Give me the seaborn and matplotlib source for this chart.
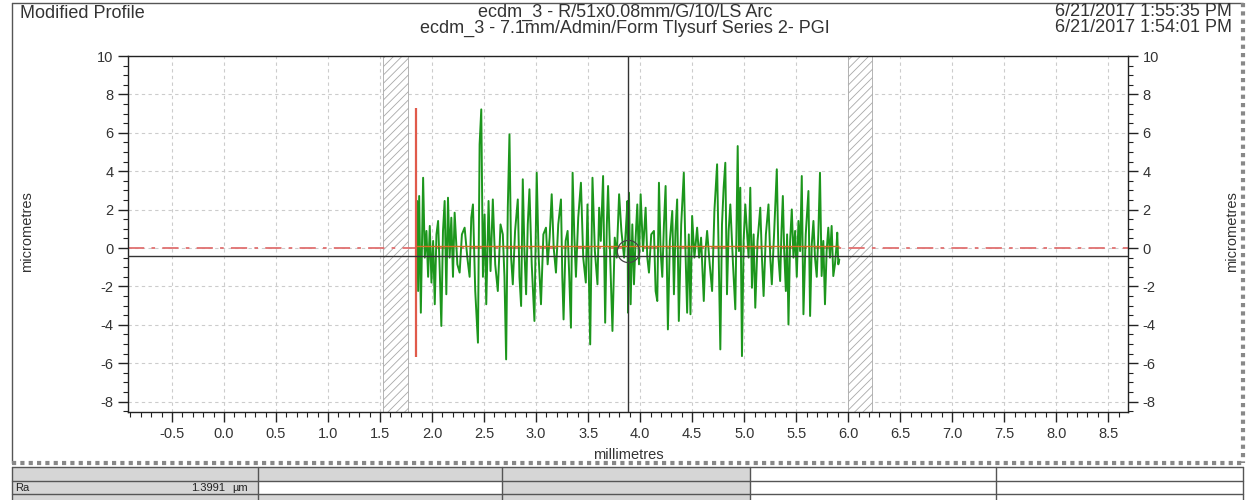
import matplotlib
matplotlib.use("Agg")
import matplotlib.pyplot as plt
import seaborn as sns
from matplotlib.ticker import MultipleLocator, FormatStrFormatter

# profile (mm, micrometres)
prof_x = [1.850, 1.856, 1.866, 1.876, 1.892, 1.914, 1.930, 1.946, 1.962, 1.978,
          1.994, 2.010, 2.026, 2.042, 2.058, 2.074, 2.089, 2.105, 2.121, 2.137,
          2.153, 2.169, 2.185, 2.201, 2.217, 2.243, 2.265, 2.287, 2.313, 2.339,
          2.361, 2.377, 2.393, 2.415, 2.441, 2.457, 2.473, 2.489, 2.505, 2.521,
          2.543, 2.562, 2.584, 2.607, 2.632, 2.658, 2.680, 2.696, 2.712, 2.728,
          2.744, 2.760, 2.776, 2.798, 2.824, 2.840, 2.856, 2.872, 2.888, 2.904,
          2.920, 2.936, 2.958, 2.984, 3.006, 3.025, 3.047, 3.070, 3.095, 3.111,
          3.130, 3.150, 3.169, 3.191, 3.213, 3.239, 3.252, 3.264, 3.284, 3.303,
          3.319, 3.335, 3.351, 3.367, 3.383, 3.405, 3.431, 3.453, 3.478, 3.494,
          3.507, 3.520, 3.542, 3.565, 3.590, 3.606, 3.622, 3.644, 3.664, 3.680,
          3.692, 3.712, 3.734, 3.756, 3.775, 3.798, 3.820, 3.846, 3.862, 3.878,
          3.884, 3.893, 3.909, 3.925, 3.941, 3.957, 3.973, 3.989, 4.005, 4.028,
          4.053, 4.069, 4.085, 4.107, 4.133, 4.149, 4.165, 4.181, 4.197, 4.213,
          4.229, 4.245, 4.267, 4.286, 4.309, 4.325, 4.340, 4.356, 4.372, 4.395,
          4.420, 4.436, 4.452, 4.468, 4.484, 4.500, 4.522, 4.548, 4.567, 4.586,
          4.612, 4.628, 4.644, 4.669, 4.692, 4.714, 4.740, 4.756, 4.771, 4.787,
          4.803, 4.819, 4.835, 4.851, 4.867, 4.893, 4.915, 4.938, 4.950, 4.963,
          4.979, 4.995, 5.011, 5.027, 5.043, 5.059, 5.075, 5.091, 5.107, 5.129,
          5.155, 5.171, 5.187, 5.209, 5.234, 5.251, 5.266, 5.289, 5.314, 5.330,
          5.346, 5.359, 5.372, 5.385, 5.401, 5.413, 5.426, 5.442, 5.458, 5.474,
          5.490, 5.506, 5.522, 5.538, 5.554, 5.570, 5.592, 5.618, 5.634, 5.650,
          5.666, 5.681, 5.698, 5.713, 5.729, 5.745, 5.761, 5.777, 5.793, 5.809,
          5.825, 5.841, 5.857, 5.873, 5.889, 5.895, 5.905, 5.915]
prof_y = [0.0, 2.45, -2.24, 2.71, -3.37, 3.66, -0.5, 0.89, -1.5, 1.15,
          -1.8, 0.37, -2.93, 0.71, 1.41, -1.2, -4.06, 0.89, 2.45, -2.41,
          2.62, -0.5, 1.58, -1.5, 1.84, -0.85, -1.28, 0.71, 1.06, -0.5,
          -1.5, 1.58, 2.27, -2.24, -4.93, 5.4, 7.22, -1.5, 1.75, -2.93,
          2.45, -1.2, 2.53, -0.85, -2.24, 1.23, 0.71, -1.5, -5.8, 2.1,
          5.92, -0.5, -1.89, 0.89, 2.53, -1.5, -3.02, 3.58, -0.16, -2.41,
          1.23, 3.06, -0.85, -3.8, 3.92, -0.5, -2.93, 0.71, 1.06, -0.85,
          0.54, 2.8, 0.02, -1.28, 1.23, 2.53, -1.5, -3.72, 0.37, 0.89,
          -1.5, -4.15, 3.92, 0.71, -1.5, 1.58, 3.4, -0.5, -1.8, 2.27,
          -1.5, -5.02, 3.66, -0.16, -1.89, 2.1, 0.37, 3.75, -3.89, 1.23,
          3.23, -0.5, -4.32, 0.54, -0.5, 2.8, 0.89, -0.5, 0.89, 2.45,
          -3.37, 2.88, -2.93, 1.23, -1.89, 0.54, 2.27, -0.85, 2.8, -0.16,
          2.1, -0.5, -1.28, 0.71, 0.89, -2.24, -2.76, 3.4, -0.16, -1.5,
          1.23, 3.23, -4.24, 0.37, 1.93, -2.41, 0.89, 2.53, -3.8, 1.23,
          3.92, -0.16, -3.37, 0.71, -3.45, 1.67, -0.5, 1.06, -0.5, 0.54,
          -2.76, -0.16, 0.89, -0.85, -2.24, 1.93, 4.36, -0.5, -5.28, 1.23,
          3.14, 4.44, -2.41, 0.89, 2.27, -0.85, -3.19, 5.31, -0.16, 3.14,
          -5.63, 0.37, 2.27, 0.89, -0.5, 3.14, -2.07, 0.71, -3.11, 0.37,
          2.1, -0.5, -2.5, 0.71, 2.27, -0.5, -1.89, 0.89, 4.1, -0.5,
          -1.72, 0.89, 2.71, -0.16, -2.24, 0.71, -3.98, 0.37, 2.01, -0.5,
          0.89, -1.5, 1.41, -0.16, 3.75, -3.45, 0.71, 2.97, -3.54, 0.19,
          1.41, -0.5, -1.5, 0.71, 3.92, -1.46, 0.37, -2.93, -0.16, 1.06,
          -0.5, 1.15, -1.46, -0.85, 0.19, 0.8, -0.85, -0.6]

x_ticks = [-0.5, 0.0, 0.5, 1.0, 1.5, 2.0, 2.5, 3.0, 3.5, 4.0, 4.5, 5.0, 5.5, 6.0, 6.5, 7.0, 7.5, 8.0, 8.5]
y_ticks = [-8, -6, -4, -2, 0, 2, 4, 6, 8, 10]
hatch_bands = [(1.53, 1.77), (6.0, 6.23)]
start_marker = (1.85, -5.7, 7.3)
cursor_x = 3.88
cursor_y = -0.4
mean_line_y = 0.1

title_left = "Modified Profile"
title_mid = ["ecdm_3 - R/51x0.08mm/G/10/LS Arc", "ecdm_3 - 7.1mm/Admin/Form Tlysurf Series 2- PGI"]
title_right = ["6/21/2017 1:55:35 PM", "6/21/2017 1:54:01 PM"]
param_name = "Ra"
param_value = "1.3991"
param_unit = "µm"

sns.set_theme(style="white")
plt.rcParams['font.family'] = ['Liberation Sans', 'DejaVu Sans']
plt.rcParams['hatch.linewidth'] = 0.6
plt.rcParams['axes.unicode_minus'] = False

W, H = 1251, 500
fig = plt.figure(figsize=(W / 100, H / 100), dpi=100)

# background layer in pixel coordinates for frame and table
bg = fig.add_axes([0, 0, 1, 1], zorder=0)
bg.set_xlim(0, W)
bg.set_ylim(H, 0)
bg.axis("off")
frame_c = "#555555"
bg.plot([12, 12], [3, 463], color=frame_c, lw=1)
bg.plot([12, 1243], [3, 3], color=frame_c, lw=1)
bg.plot([1243, 1243], [3, 463], color="#888888", lw=3, ls=(0, (1, 1)))
bg.plot([12, 1243], [463, 463], color="#888888", lw=3, ls=(0, (1, 1)))

grey = "#d6d6d6"
bg.fill_between([12, 750], 467, 481, color=grey, lw=0)
bg.fill_between([12, 258], 481, 494, color=grey, lw=0)
bg.fill_between([502, 750], 481, 494, color=grey, lw=0)
bg.fill_between([12, 750], 494, 500, color=grey, lw=0)
for yy in [467, 481, 494]:
    bg.plot([12, 1243], [yy, yy], color=frame_c, lw=1)
for xx in [12, 258, 502, 750, 996, 1243]:
    bg.plot([xx, xx], [467, 500], color=frame_c, lw=1)
bg.text(15, 488, param_name, fontsize=8, va="center", ha="left", color="#222222")
bg.text(225, 488, param_value, fontsize=8, va="center", ha="right", color="#222222")
bg.text(232, 488, param_unit, fontsize=8, va="center", ha="left", color="#222222")

txt_c = "#333333"
tfs = 13
bg.text(20, 14, title_left, fontsize=tfs, va="center", ha="left", color=txt_c)
bg.text(625, 12, title_mid[0], fontsize=tfs, va="center", ha="center", color=txt_c)
bg.text(625, 28, title_mid[1], fontsize=tfs, va="center", ha="center", color=txt_c)
bg.text(1232, 12, title_right[0], fontsize=tfs, va="center", ha="right", color=txt_c)
bg.text(1232, 28, title_right[1], fontsize=tfs, va="center", ha="right", color=txt_c)

# main profile axes
ax = fig.add_axes([128 / W, 1 - 412 / H, (1128 - 128) / W, (412 - 56) / H], zorder=1)
ax.set_xlim(-0.923, 8.69)
ax.set_ylim(-8.54, 10)

for a, b in hatch_bands:
    ax.axvspan(a, b, facecolor="white", edgecolor="#a8a8a8", hatch="////", lw=0.6, zorder=1)

ax.axhline(0, color="#e07070", lw=1.3, ls=(0, (9, 4, 2, 4)), zorder=2)
sns.lineplot(x=prof_x, y=prof_y, color="#1c961c", linewidth=1.4,
             estimator=None, sort=False, ax=ax, zorder=3)
ax.vlines(start_marker[0], start_marker[1], start_marker[2], color="#e05a4a", lw=1.6, zorder=4)
ax.hlines(mean_line_y, prof_x[0], prof_x[-1], color="#d07020", lw=1.0, zorder=4)
ax.axvline(cursor_x, color="#333333", lw=1.0, zorder=5)
ax.axhline(cursor_y, color="#333333", lw=1.0, zorder=5)
ax.plot([cursor_x], [-0.15], marker="o", ms=16, mfc="none", mec="#444444", mew=0.9, zorder=5)

ax.set_xticks(x_ticks)
ax.xaxis.set_major_formatter(FormatStrFormatter("%.1f"))
ax.xaxis.set_minor_locator(MultipleLocator(0.1))
ax.set_yticks(y_ticks)
ax.yaxis.set_minor_locator(MultipleLocator(0.5))
ax.grid(True, which="major", color="#cccccc", lw=0.8, ls=(0, (3, 3)))
ax.set_axisbelow(True)
for s in ax.spines.values():
    s.set_color("#222222")
    s.set_linewidth(1.0)
ax.tick_params(which="both", direction="out", colors="#222222", labelcolor=txt_c, labelsize=10.5,
               bottom=True, left=True, right=True, top=False, labelright=True)
ax.tick_params(which="major", length=7, width=1)
ax.tick_params(which="minor", length=3.5, width=0.8)
ax.set_xlabel("millimetres", fontsize=10.5, color=txt_c, labelpad=5)
fig.text(27 / W, 1 - 232 / H, "micrometres", rotation=90, fontsize=10.5, color=txt_c,
         ha="center", va="center")
fig.text(1232 / W, 1 - 232 / H, "micrometres", rotation=90, fontsize=10.5, color=txt_c,
         ha="center", va="center")

fig.savefig("out.png", dpi=100)
